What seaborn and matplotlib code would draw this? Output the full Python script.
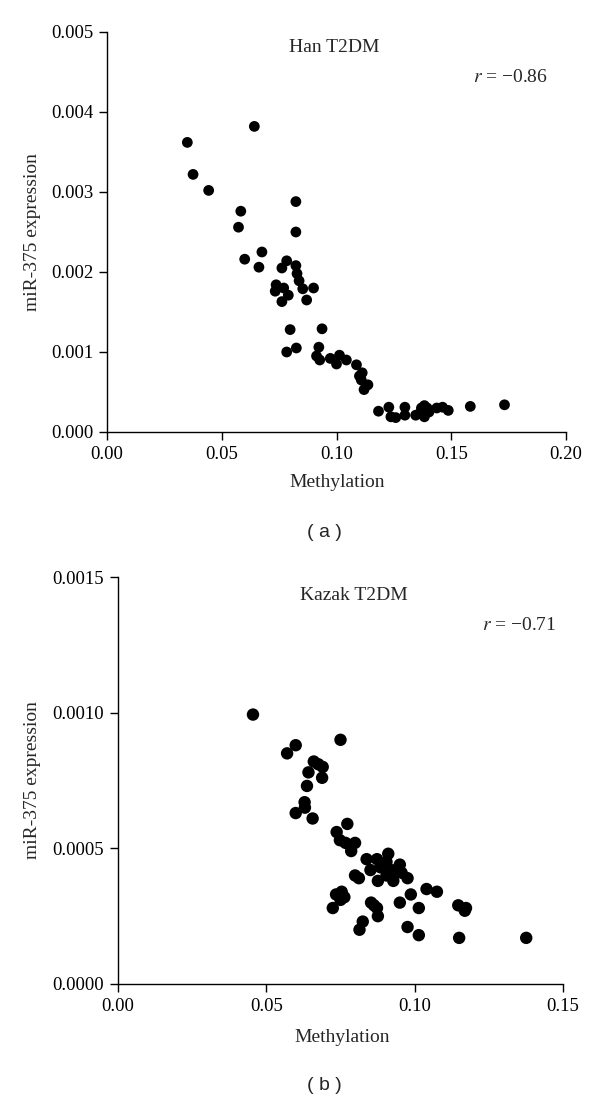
import matplotlib
matplotlib.use("Agg")
import matplotlib.pyplot as plt
import seaborn as sns
import pandas as pd
from matplotlib.ticker import FormatStrFormatter

# ---- data ----
han_methylation = [0.035, 0.0642, 0.0375, 0.0443, 0.0583, 0.0573, 0.0823, 0.0823, 0.0675, 0.060,
                   0.0662, 0.0783, 0.0762, 0.0823, 0.0828, 0.0837, 0.0737, 0.0733, 0.077, 0.079,
                   0.0762, 0.0853, 0.090, 0.087, 0.0798, 0.0937, 0.0783, 0.0825, 0.0923, 0.0913,
                   0.0927, 0.0973, 0.100, 0.1013, 0.1043, 0.1087, 0.110, 0.1112, 0.112, 0.1137,
                   0.1108, 0.1183, 0.1228, 0.1237, 0.1258, 0.1298, 0.1298, 0.1345, 0.137, 0.1383,
                   0.1383, 0.1403, 0.1437, 0.1462, 0.1487, 0.1583, 0.1732, 0.1362, 0.1395]
han_expression = [0.00362, 0.00382, 0.00322, 0.00302, 0.00276, 0.00256, 0.00288, 0.00250, 0.00225, 0.00216,
                  0.00206, 0.00214, 0.00205, 0.00208, 0.00198, 0.00189, 0.00184, 0.00176, 0.00180, 0.00171,
                  0.00163, 0.00179, 0.00180, 0.00165, 0.00128, 0.00129, 0.00100, 0.00105, 0.00106, 0.00095,
                  0.00090, 0.00092, 0.00085, 0.00096, 0.00090, 0.00084, 0.00070, 0.00074, 0.00053, 0.00059,
                  0.00065, 0.00026, 0.00031, 0.00019, 0.00018, 0.00031, 0.00021, 0.00021, 0.00030, 0.00033,
                  0.00019, 0.00025, 0.00030, 0.00031, 0.00027, 0.00032, 0.00034, 0.00023, 0.00030]

kazak_methylation = [0.0455, 0.075, 0.0599, 0.057, 0.066, 0.0675, 0.069, 0.0642, 0.0688, 0.0637,
                     0.0629, 0.063, 0.0599, 0.0656, 0.0773, 0.0737, 0.0748, 0.0767, 0.0799, 0.0786,
                     0.0838, 0.0873, 0.0911, 0.0905, 0.095, 0.0851, 0.0885, 0.092, 0.0937, 0.0905,
                     0.0956, 0.0976, 0.0799, 0.0812, 0.0876, 0.0928, 0.104, 0.1075, 0.0987, 0.0735,
                     0.0754, 0.0763, 0.075, 0.095, 0.0853, 0.0863, 0.0873, 0.0724, 0.1014, 0.1147,
                     0.1173, 0.1169, 0.0876, 0.0825, 0.0814, 0.0976, 0.1014, 0.115, 0.1376]
kazak_expression = [0.000993, 0.0009, 0.00088, 0.00085, 0.00082, 0.00081, 0.0008, 0.00078, 0.00076, 0.00073,
                    0.00067, 0.00065, 0.00063, 0.00061, 0.00059, 0.00056, 0.00053, 0.00052, 0.00052, 0.00049,
                    0.00046, 0.00046, 0.00048, 0.00045, 0.00044, 0.00042, 0.00043, 0.00042, 0.00042, 0.0004,
                    0.00041, 0.00039, 0.0004, 0.00039, 0.00038, 0.00038, 0.00035, 0.00034, 0.00033, 0.00033,
                    0.00034, 0.00032, 0.00031, 0.0003, 0.0003, 0.00029, 0.00028, 0.00028, 0.00028, 0.00029,
                    0.00028, 0.00027, 0.00025, 0.00023, 0.0002, 0.00021, 0.00018, 0.00017, 0.00017]

han_xticks = [0.00, 0.05, 0.10, 0.15, 0.20]
han_yticks = [0.000, 0.001, 0.002, 0.003, 0.004, 0.005]
kazak_xticks = [0.00, 0.05, 0.10, 0.15]
kazak_yticks = [0.0000, 0.0005, 0.0010, 0.0015]

han_title = "Han T2DM"
kazak_title = "Kazak T2DM"
han_r = "$r$ = \u22120.86"
kazak_r = "$r$ = \u22120.71"

# ---- style ----
sns.set_style("ticks")
plt.rcParams['font.family'] = ['Liberation Serif', 'DejaVu Serif']
plt.rcParams['mathtext.fontset'] = 'stix'
plt.rcParams['axes.linewidth'] = 1.0
plt.rcParams['xtick.major.width'] = 1.0
plt.rcParams['ytick.major.width'] = 1.0
plt.rcParams['xtick.major.size'] = 6
plt.rcParams['ytick.major.size'] = 6
plt.rcParams['xtick.color'] = 'black'
plt.rcParams['ytick.color'] = 'black'
plt.rcParams['axes.edgecolor'] = 'black'

W, H = 600, 1101
fig = plt.figure(figsize=(W / 100, H / 100), dpi=100)

def fx(px):
    return px / W

def fy(py):
    return 1 - py / H

FS_TICK = 13.5
FS = 14

def panel(rect, xs, ys, xticks, yticks, xfmt, yfmt, title, title_xy, rtxt, r_xy,
          xlabel_xy, label, ylabel_y, msize):
    ax = fig.add_axes(rect)
    df = pd.DataFrame({"Methylation": xs, "Expression": ys})
    sns.scatterplot(data=df, x="Methylation", y="Expression", ax=ax, color="black",
                    s=msize, edgecolor="none", linewidth=0, clip_on=False)
    ax.set_xlim(xticks[0], xticks[-1])
    ax.set_ylim(yticks[0], yticks[-1])
    ax.set_xticks(xticks)
    ax.set_yticks(yticks)
    ax.xaxis.set_major_formatter(FormatStrFormatter(xfmt))
    ax.yaxis.set_major_formatter(FormatStrFormatter(yfmt))
    ax.tick_params(axis='both', labelsize=FS_TICK, pad=4, direction='out')
    sns.despine(ax=ax)
    ax.set_xlabel("")
    ax.set_ylabel("")
    fig.text(fx(title_xy[0]), fy(title_xy[1]), title, ha='center', va='center', fontsize=FS)
    fig.text(fx(r_xy[0]), fy(r_xy[1]), rtxt, ha='center', va='center', fontsize=FS)
    fig.text(fx(xlabel_xy[0]), fy(xlabel_xy[1]), "Methylation",
             ha='center', va='center', fontsize=FS)
    fig.text(fx(33), fy(ylabel_y), "miR-375 expression", ha='center', va='center',
             rotation=90, fontsize=FS)
    fig.text(fx(324), fy(label[1]), label[0], ha='center', va='center', fontsize=14,
             family=['Liberation Sans', 'DejaVu Sans'])
    return ax

# top panel: axes spans x 107..566 px, y 32..432 px
panel([fx(107), fy(432), (566 - 107) / W, (432 - 32) / H],
      han_methylation, han_expression, han_xticks, han_yticks, '%.2f', '%.3f',
      han_title, (334, 48), han_r, (510, 78), (337, 483), ("( a )", 533), 232, 60)

# bottom panel: axes spans x 118..563 px, y 577..984 px
panel([fx(118), fy(984), (563 - 118) / W, (984 - 577) / H],
      kazak_methylation, kazak_expression, kazak_xticks, kazak_yticks, '%.2f', '%.4f',
      kazak_title, (354, 595), kazak_r, (519, 625), (342, 1037), ("( b )", 1085), 780, 80)

fig.savefig("out.png", dpi=100)
